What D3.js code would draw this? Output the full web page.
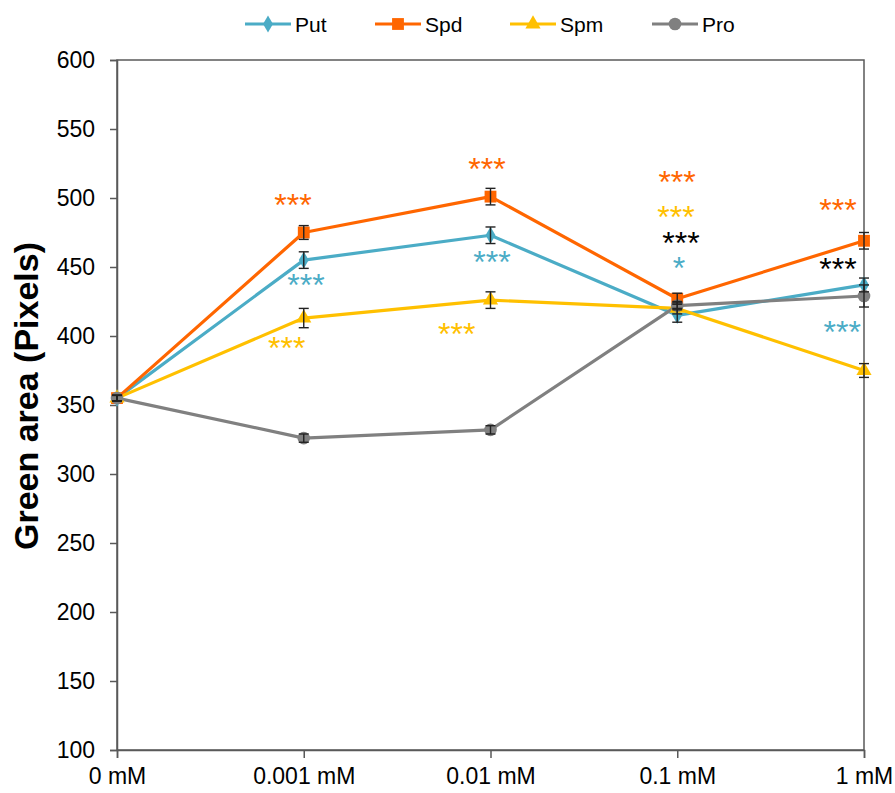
<!DOCTYPE html>
<html>
<head>
<meta charset="utf-8">
<script src="https://cdn.jsdelivr.net/npm/d3@7"></script>
<style>
  html, body { margin: 0; padding: 0; background: #fff; }
  svg { display: block; font-family: Arial, "Liberation Sans", sans-serif; }
</style>
</head>
<body>
<svg id="chart" width="895" height="793"></svg>
<script>
// ---- data ----
const categories = ["0 mM", "0.001 mM", "0.01 mM", "0.1 mM", "1 mM"];
const seriesNames = ["Put", "Spd", "Spm", "Pro"];
const putValues = [355, 455, 473, 415, 437];
const spdValues = [355, 475, 501, 427, 469];
const spmValues = [355, 413, 426, 420, 375];
const proValues = [355, 326, 332, 422, 429];
const putErrors = [2, 6, 6, 5, 5];
const spdErrors = [2, 5, 6, 4, 6];
const spmErrors = [2, 7, 6, 4, 5];
const proErrors = [2, 3, 3, 3, 8];
const yTicks = [100, 150, 200, 250, 300, 350, 400, 450, 500, 550, 600];
// significance annotations: position in category-index units and value units
const annText   = ["***", "***", "***", "***", "***", "***", "***", "***", "***", "*", "***", "***", "***"];
const annSeries = ["Spd", "Put", "Spm", "Spd", "Put", "Spm", "Spd", "Spm", "Pro", "Put", "Spd", "Pro", "Put"];
const annIndex  = [0.942, 1.012, 0.909, 1.981, 2.008, 1.819, 2.999, 2.993, 3.020, 3.009, 3.861, 3.861, 3.883];
const annValue  = [497.3, 439.3, 394.2, 523.9, 456.5, 404.3, 514.5, 489.1, 470.3, 452.2, 493.7, 451.0, 405.8];

(function () {
const colors = { Put: "#4BACC6", Spd: "#FF6600", Spm: "#FFC000", Pro: "#808080" };
const annColors = { Put: "#4BACC6", Spd: "#FF6600", Spm: "#FFC000", Pro: "#000000" };
const symbols = { Put: d3.symbolDiamond, Spd: d3.symbolSquare, Spm: d3.symbolTriangle, Pro: d3.symbolCircle };
const symSize = { Put: 85, Spd: 140, Spm: 100, Pro: 125 };

const series = [
  { name: "Put", values: putValues, errors: putErrors },
  { name: "Spd", values: spdValues, errors: spdErrors },
  { name: "Spm", values: spmValues, errors: spmErrors },
  { name: "Pro", values: proValues, errors: proErrors }
];

// ---- layout ----
const svg = d3.select("#chart");
const mLeft = 117, mRight = 864, mTop = 60, mBottom = 750;
const axisColor = "#595959";
const tickFont = 23;

const x = d3.scaleLinear().domain([0, categories.length - 1]).range([mLeft, mRight]);
const y = d3.scaleLinear().domain([100, 600]).range([mBottom, mTop]);

// frame
svg.append("rect")
  .attr("x", mLeft).attr("y", mTop)
  .attr("width", mRight - mLeft).attr("height", mBottom - mTop)
  .attr("fill", "none").attr("stroke", axisColor).attr("stroke-width", 1.5);

// y axis
const yAxis = d3.axisLeft(y).tickValues(yTicks).tickSize(7).tickPadding(15).tickFormat(d3.format("d"));
const gy = svg.append("g").attr("transform", `translate(${mLeft},0)`).call(yAxis);
gy.select(".domain").attr("stroke", axisColor).attr("stroke-width", 1.5);
gy.selectAll(".tick line").attr("stroke", axisColor).attr("stroke-width", 1.5);
gy.selectAll(".tick text").attr("font-size", tickFont).attr("fill", "#000").attr("font-family", "Arial, 'Liberation Sans', sans-serif");

// x axis
const xAxis = d3.axisBottom(x).tickValues(d3.range(categories.length)).tickFormat(i => categories[i]).tickSize(8).tickPadding(10);
const gx = svg.append("g").attr("transform", `translate(0,${mBottom})`).call(xAxis);
gx.select(".domain").attr("stroke", axisColor).attr("stroke-width", 1.5);
gx.selectAll(".tick line").attr("stroke", axisColor).attr("stroke-width", 1.5);
gx.selectAll(".tick text").attr("font-size", tickFont).attr("fill", "#000").attr("font-family", "Arial, 'Liberation Sans', sans-serif");

// y title
svg.append("text")
  .attr("transform", `translate(38,396) rotate(-90)`)
  .attr("text-anchor", "middle")
  .attr("font-size", 34).attr("font-weight", "bold").attr("fill", "#000")
  .text("Green area (Pixels)");

// lines
const line = d3.line().x((d, i) => x(i)).y(d => y(d));
series.forEach(s => {
  svg.append("path")
    .attr("d", line(s.values))
    .attr("fill", "none")
    .attr("stroke", colors[s.name])
    .attr("stroke-width", 3.2)
    .attr("stroke-linejoin", "round");
});

// markers
series.forEach(s => {
  svg.append("g").selectAll("path")
    .data(s.values)
    .join("path")
    .attr("transform", (d, i) => `translate(${x(i)},${y(d)})`)
    .attr("d", d3.symbol().type(symbols[s.name]).size(symSize[s.name]))
    .attr("fill", colors[s.name]);
});

// error bars
series.forEach(s => {
  const g = svg.append("g").attr("stroke", "#222").attr("stroke-width", 1.4).attr("fill", "none");
  s.values.forEach((v, i) => {
    const e = s.errors[i];
    const cx = x(i);
    g.append("line").attr("x1", cx).attr("x2", cx).attr("y1", y(v - e)).attr("y2", y(v + e));
    g.append("line").attr("x1", cx - 5).attr("x2", cx + 5).attr("y1", y(v - e)).attr("y2", y(v - e));
    g.append("line").attr("x1", cx - 5).attr("x2", cx + 5).attr("y1", y(v + e)).attr("y2", y(v + e));
  });
});

// significance annotations
const annFont = 32;
svg.append("g").selectAll("text")
  .data(annText.map((t, i) => ({ t, s: annSeries[i], xi: annIndex[i], v: annValue[i] })))
  .join("text")
  .attr("x", d => x(d.xi))
  .attr("y", d => y(d.v) + annFont * 0.46)
  .attr("text-anchor", "middle")
  .attr("font-size", annFont)
  .attr("fill", d => annColors[d.s])
  .text(d => d.t);

// legend
const legendX = [245, 375, 510, 652];
const legendY = 24;
seriesNames.forEach((name, i) => {
  const g = svg.append("g").attr("transform", `translate(${legendX[i]},${legendY})`);
  g.append("line").attr("x1", 0).attr("x2", 46).attr("y1", 0).attr("y2", 0)
    .attr("stroke", colors[name]).attr("stroke-width", 3.2);
  g.append("path").attr("transform", "translate(23,0)")
    .attr("d", d3.symbol().type(symbols[name]).size(symSize[name]))
    .attr("fill", colors[name]);
  g.append("text").attr("x", 50).attr("y", 7.5).attr("font-size", 21).attr("fill", "#000").text(name);
});
})();
</script>
</body>
</html>
